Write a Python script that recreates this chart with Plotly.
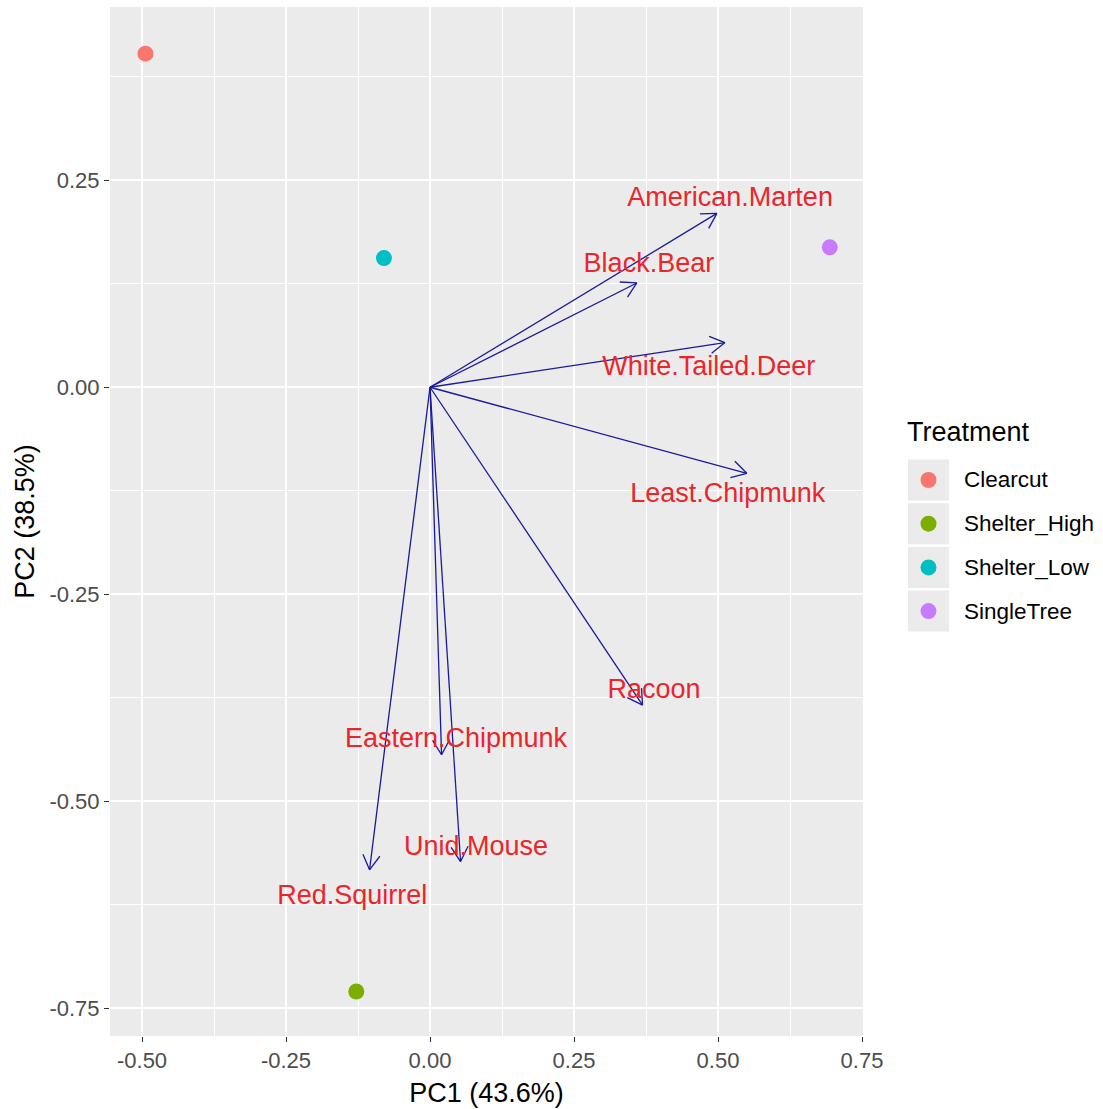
import numpy as np
import plotly.graph_objects as go

# --- PCA biplot data ---------------------------------------------------------
treatments = ["Clearcut", "Shelter_High", "Shelter_Low", "SingleTree"]
site_pc1 = [-0.494, -0.128, -0.080, 0.694]
site_pc2 = [0.403, -0.730, 0.156, 0.169]
treatment_colors = ["#F8766D", "#7CAE00", "#00BFC4", "#C77CFF"]

species = ["American.Marten", "Black.Bear", "White.Tailed.Deer", "Least.Chipmunk",
           "Racoon", "Eastern.Chipmunk", "Unid.Mouse", "Red.Squirrel"]
load_pc1 = [0.498, 0.359, 0.512, 0.550, 0.369, 0.020, 0.053, -0.105]
load_pc2 = [0.210, 0.126, 0.054, -0.104, -0.384, -0.444, -0.573, -0.583]
label_pc1 = [0.521, 0.380, 0.484, 0.517, 0.389, 0.045, 0.080, -0.135]
label_pc2 = [0.227, 0.147, 0.023, -0.131, -0.367, -0.427, -0.557, -0.616]

x_ticks = [-0.50, -0.25, 0.00, 0.25, 0.50, 0.75]
y_ticks = [-0.75, -0.50, -0.25, 0.00, 0.25]

# --- figure geometry ---------------------------------------------------------
W, H = 1103, 1109
ML, MR, MT, MB = 110, 240, 7, 73
x_range = [-0.5556, 0.7517]
y_range = [-0.7838, 0.4594]
px_per_x = (W - ML - MR) / (x_range[1] - x_range[0])
px_per_y = (H - MT - MB) / (y_range[1] - y_range[0])

FONT = "Arial, Liberation Sans, sans-serif"
ARROW_COLOR = "#1a1a9c"
LABEL_COLOR = "#E8262C"

fig = go.Figure()

# site scores
for name, x, y, c in zip(treatments, site_pc1, site_pc2, treatment_colors):
    fig.add_trace(go.Scatter(
        x=[x], y=[y], mode="markers", name=name, showlegend=False,
        marker=dict(size=16, color=c, line=dict(width=0)),
    ))

# loading arrows: shafts plus open chevron heads (built in pixel space)
head_len, head_ang = 17.0, np.deg2rad(30)
xs, ys = [], []
for x, y in zip(load_pc1, load_pc2):
    xs += [0, x, None]
    ys += [0, y, None]
    d = np.array([x * px_per_x, y * px_per_y])
    d = d / np.linalg.norm(d)
    for s in (1, -1):
        c, sn = np.cos(s * head_ang), np.sin(s * head_ang)
        back = -np.array([c * d[0] - sn * d[1], sn * d[0] + c * d[1]])
        wx = x + back[0] * head_len / px_per_x
        wy = y + back[1] * head_len / px_per_y
        xs += [wx, x, None]
        ys += [wy, y, None]
fig.add_trace(go.Scatter(
    x=xs, y=ys, mode="lines", showlegend=False, hoverinfo="skip",
    line=dict(color=ARROW_COLOR, width=1.3),
))

# species labels
fig.add_trace(go.Scatter(
    x=label_pc1, y=label_pc2, mode="text", text=species, showlegend=False,
    textposition="middle center",
    textfont=dict(family=FONT, size=27, color=LABEL_COLOR),
))

# --- legend drawn as key boxes, dots and labels --------------------------------
def px_to_paper(px, py):
    return (px - ML) / (W - ML - MR), (H - MB - py) / (H - MT - MB)

shapes = []
annotations = []
tx, ty = px_to_paper(905, 432)
annotations.append(dict(x=tx, y=ty, xref="paper", yref="paper", text="Treatment",
                        showarrow=False, xanchor="left", yanchor="middle",
                        font=dict(family=FONT, size=27, color="black")))
row0, row_gap = 480, 43.7
for i, (name, c) in enumerate(zip(treatments, treatment_colors)):
    cy = row0 + i * row_gap
    x0, y0 = px_to_paper(908, cy - 20.5)
    x1, y1 = px_to_paper(949, cy + 20.5)
    shapes.append(dict(type="rect", xref="paper", yref="paper", x0=x0, x1=x1,
                       y0=y1, y1=y0, fillcolor="#EBEBEB", line=dict(width=0),
                       layer="below"))
    mx, my = px_to_paper(928.5, cy)
    shapes.append(dict(type="circle", xref="paper", yref="paper",
                       xsizemode="pixel", ysizemode="pixel", xanchor=mx, yanchor=my,
                       x0=-8, x1=8, y0=-8, y1=8, fillcolor=c, line=dict(width=0)))
    lx, ly = px_to_paper(962, cy)
    annotations.append(dict(x=lx, y=ly, xref="paper", yref="paper", text=name,
                            showarrow=False, xanchor="left", yanchor="middle",
                            font=dict(family=FONT, size=22.5, color="black")))

axis_common = dict(
    showgrid=True, gridcolor="white", gridwidth=1.5, zeroline=False,
    ticks="outside", ticklen=5, tickwidth=1.2, tickcolor="#333333",
    tickfont=dict(family=FONT, size=22, color="#4D4D4D"),
    showline=False,
)

fig.update_layout(
    width=W, height=H,
    margin=dict(l=ML, r=MR, t=MT, b=MB, pad=0),
    paper_bgcolor="white", plot_bgcolor="#EBEBEB",
    showlegend=False,
    shapes=shapes, annotations=annotations,
    xaxis=dict(range=x_range, tickvals=x_ticks,
               ticktext=[f"{v:.2f}" for v in x_ticks],
               minor=dict(tickvals=[-0.375, -0.125, 0.125, 0.375, 0.625],
                          showgrid=True, gridcolor="white", gridwidth=0.7),
               title=dict(text="PC1 (43.6%)", standoff=10,
                          font=dict(family=FONT, size=27, color="black")),
               **axis_common),
    yaxis=dict(range=y_range, tickvals=y_ticks,
               ticktext=[f"{v:.2f}" for v in y_ticks],
               minor=dict(tickvals=[-0.625, -0.375, -0.125, 0.125, 0.375],
                          showgrid=True, gridcolor="white", gridwidth=0.7),
               title=dict(text="PC2 (38.5%)", standoff=6,
                          font=dict(family=FONT, size=27, color="black")),
               **axis_common),
    font=dict(family=FONT),
)

fig.write_html("out.html")
